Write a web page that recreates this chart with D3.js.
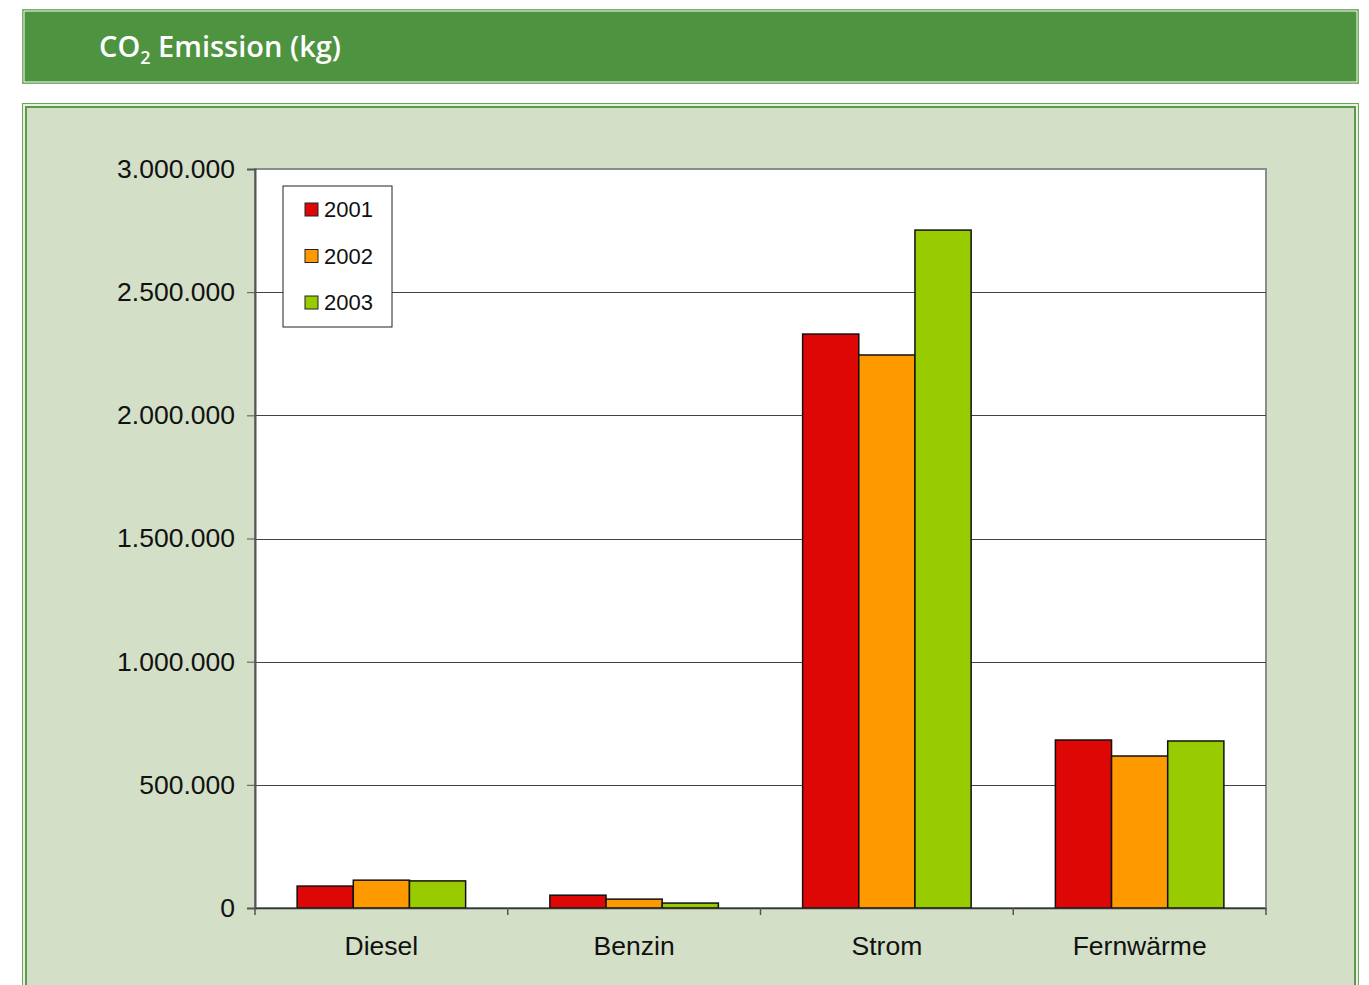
<!DOCTYPE html>
<html>
<head>
<meta charset="utf-8">
<script src="https://cdn.jsdelivr.net/npm/d3@7"></script>
<style>
  body { margin: 0; background: #fff; }
  svg { display: block; }
</style>
</head>
<body>
<svg id="viz" width="1369" height="985"></svg>
<script>
// data
const categories = ["Diesel", "Benzin", "Strom", "Fernwärme"];
const years = ["2001", "2002", "2003"];
const values2001 = [89000, 52000, 2330000, 682000];
const values2002 = [113000, 36000, 2245000, 617000];
const values2003 = [110000, 20000, 2752000, 678000];
const yTicks = [0, 500000, 1000000, 1500000, 2000000, 2500000, 3000000];
const colors = ["#dd0806", "#ff9900", "#99cc00"];

const series = [values2001, values2002, values2003];

const svg = d3.select("#viz");

// header bar
svg.append("rect").attr("x", 22.5).attr("y", 9.5).attr("width", 1336).attr("height", 74)
  .attr("fill", "#4e933f").attr("stroke", "#7fb070");
svg.append("rect").attr("x", 24).attr("y", 11).attr("width", 1333).attr("height", 71)
  .attr("fill", "none").attr("stroke", "#ffffff").attr("stroke-width", 1);

const title = svg.append("text").attr("x", 99).attr("y", 57)
  .style("font-family", "'Open Sans', sans-serif").style("font-weight", 600)
  .style("font-size", "29px").style("fill", "#fff");
title.append("tspan").text("CO");
title.append("tspan").text("2").attr("dy", 7).style("font-size", "18px");
title.append("tspan").text(" Emission (kg)").attr("dy", -7);

// panel
svg.append("rect").attr("x", 22.5).attr("y", 103.5).attr("width", 1336).attr("height", 900)
  .attr("fill", "#d3dfc6").attr("stroke", "#6aa45a");
svg.append("rect").attr("x", 24).attr("y", 105).attr("width", 1333).attr("height", 900)
  .attr("fill", "none").attr("stroke", "#ffffff").attr("stroke-width", 1);
svg.append("rect").attr("x", 26).attr("y", 107).attr("width", 1329).attr("height", 900)
  .attr("fill", "none").attr("stroke", "#5a9a4a").attr("stroke-width", 2);

const margin = { top: 169, left: 255 },
  width = 1011,
  height = 739;

const g = svg.append("g").attr("transform", `translate(${margin.left},${margin.top})`);

const x0 = d3.scaleBand().domain(categories).range([0, width]).paddingInner(0).paddingOuter(0);
const x1 = d3.scaleBand().domain(years).range([0, x0.bandwidth()]).paddingOuter(0.75).paddingInner(0);
const y = d3.scaleLinear().domain([0, 3000000]).range([height, 0]);

// plot background
g.append("rect").attr("width", width).attr("height", height).attr("fill", "#fff")
  .attr("stroke", "#8c8c8c").attr("stroke-width", 2);

// gridlines
g.selectAll(".grid").data(yTicks.slice(1, -1)).enter().append("line")
  .attr("x1", 0).attr("x2", width)
  .attr("y1", (d) => Math.round(y(d)) + 0.5).attr("y2", (d) => Math.round(y(d)) + 0.5)
  .attr("stroke", "#444").attr("stroke-width", 1);

// bars
categories.forEach((c, ci) => {
  series.forEach((s, si) => {
    g.append("rect")
      .attr("x", x0(c) + x1(years[si]))
      .attr("y", y(s[ci]))
      .attr("width", x1.bandwidth())
      .attr("height", height - y(s[ci]))
      .attr("fill", colors[si])
      .attr("stroke", "#111").attr("stroke-width", 1.5);
  });
});

// y axis
const yAxis = d3.axisLeft(y).tickValues(yTicks).tickSize(8).tickPadding(12)
  .tickFormat((d) => d3.format(",")(d).replace(/,/g, "."));
const ya = g.append("g").call(yAxis);
ya.select(".domain").attr("stroke", "#555").attr("stroke-width", 2);
ya.selectAll(".tick line").attr("stroke", "#555");
ya.selectAll("text").style("font-family", "'Liberation Sans', Arial, sans-serif")
  .style("font-size", "26.5px").style("fill", "#111");

// x axis
const xa = g.append("g").attr("transform", `translate(0,${height})`)
  .call(d3.axisBottom(x0).tickSize(0).tickPadding(28));
xa.select(".domain").attr("stroke", "#333").attr("stroke-width", 1.5);
xa.selectAll("text").style("font-family", "'Liberation Sans', Arial, sans-serif")
  .style("font-size", "26.5px").style("fill", "#111");
xa.selectAll(".sep").data(d3.range(categories.length + 1)).enter().append("line")
  .attr("x1", (d) => d * x0.bandwidth()).attr("x2", (d) => d * x0.bandwidth())
  .attr("y1", 0).attr("y2", 7).attr("stroke", "#555").attr("stroke-width", 1.5);

// legend
const legend = g.append("g").attr("transform", "translate(28,17)");
legend.append("rect").attr("width", 109).attr("height", 141).attr("fill", "#fff")
  .attr("stroke", "#222").attr("stroke-width", 1);
years.forEach((yr, i) => {
  const row = legend.append("g").attr("transform", `translate(22,${17 + i * 46.5})`);
  row.append("rect").attr("width", 13).attr("height", 13).attr("fill", colors[i])
    .attr("stroke", "#222").attr("stroke-width", 1);
  row.append("text").attr("x", 19).attr("y", 14).text(yr)
    .style("font-family", "'Liberation Sans', Arial, sans-serif")
    .style("font-size", "22px").style("fill", "#111");
});
</script>
</body>
</html>
